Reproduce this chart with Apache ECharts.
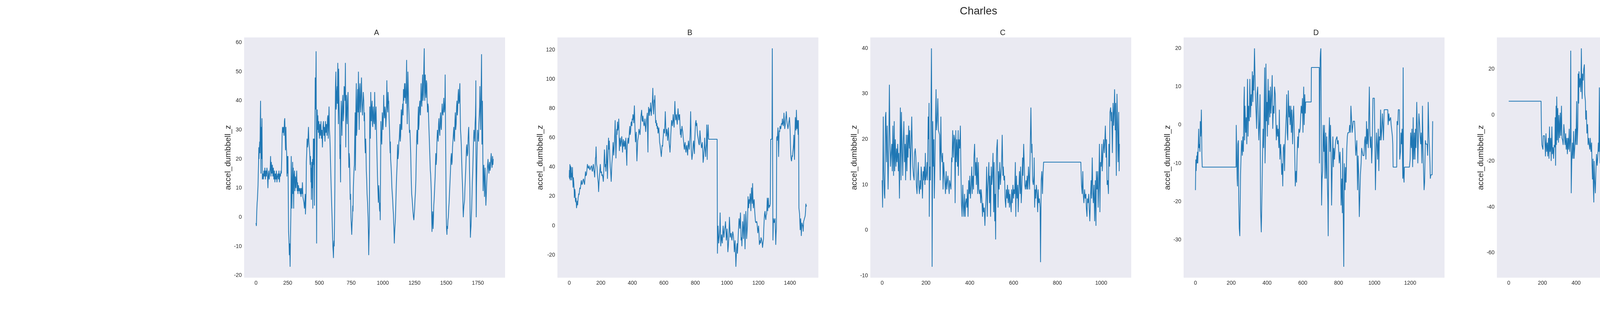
<!DOCTYPE html>
<html>
<head>
<meta charset="utf-8">
<script src="https://cdn.jsdelivr.net/npm/echarts@6/dist/echarts.min.js"></script>
<style>
  html, body { margin: 0; padding: 0; background: #ffffff; }
  #chart { width: 5000px; height: 800px; }
</style>
</head>
<body>
<div id="chart"></div>
<script>
// accel_dumbbell_z readings for Charles, one series per class (A..E), as [sample index, value]
const panelNames = ['A', 'B', 'C', 'D', 'E'];

const accelA = [
  [0,-2],[3,-3],[6,2],[9,5],[11,6],[14,9],[16,11],[18,15],[20,18],[22,24],[24,20],[27,24],[29,26],[31,22],[33,30],[36,40],[38,25],[39,15],[41,28],[42,31],[44,20],[46,30],[47,34],[49,22],[50,13],
  [54,15],[58,13],[62,16],[66,14],[70,17],[74,13],[78,16],[82,14],[86,17],[90,15],[94,10],[97,14],[100,16],[104,13],[108,15],[112,17],[115,21],[118,14],[121,19],[125,15],[129,18],[133,14],[137,17],[141,13],[145,16],[149,12],[153,15],[157,13],[161,16],[165,12],[169,14],[173,15],[177,13],[181,16],[185,12],[189,15],[193,14],[197,16],[200,15],
  [203,20],[206,28],[209,31],[213,29],[217,31],[221,28],[224,33],[227,34],[230,28],[233,23],[236,31],[239,24],[242,22],[244,14],[246,21],[249,15],[252,21],[255,5],[257,-5],[260,-8],[263,-13],[266,-9],[269,-17],[272,-7],[275,1],[278,21],[280,14],[283,3],[286,12],[289,19],[291,8],[294,17],[297,3],[300,14],[304,16],[307,9],[311,14],[315,10],[318,13],[321,16],[325,9],[328,12],[331,8],[335,11],[339,9],[343,10],[347,8],[351,10],[355,7],[359,10],[363,8],[366,12],[370,7],[374,6],[378,5],[382,3],[386,6],[388,8],[390,1],[393,5],[395,8],
  [397,19],[400,22],[403,27],[406,24],[409,25],[412,29],[414,31],[417,26],[420,26],[424,22],[427,18],[430,21],[433,12],[435,17],[437,6],[440,19],[443,10],[446,20],[448,3],[450,15],[452,27],[455,18],[458,27],[461,4],[463,20],[464,27],[466,40],[467,48],[470,37],[472,45],[474,57],[476,30],[478,-9],[480,15],[483,37],[486,30],[488,35],
  [492,29],[496,33],[500,27],[504,32],[508,28],[512,33],[516,27],[520,30],[524,24],[528,31],[532,33],[536,28],[540,31],[544,26],[548,33],[552,29],[556,32],[560,28],[564,34],[567,35],[570,27],[573,33],[576,38],[579,30],[582,28],[585,24],
  [587,20],[590,15],[593,10],[597,4],[600,0],[603,-5],[606,-10],[609,-12],[611,-14],[613,-9],[615,-8],[617,-10],[619,-3],[621,5],[622,10],[624,30],[625,36],[627,45],[630,50],[632,37],[634,38],[637,43],[640,45],[642,39],[645,53],[647,44],[650,32],[652,51],[654,42],[656,42],[659,33],[662,20],[664,25],[667,12],[669,30],[672,40],[675,34],[678,28],[681,38],[685,42],[688,33],[692,36],[695,45],[699,44],[702,40],[705,53],[707,38],[708,24],[710,36],[713,42],[716,35],[719,32],[722,40],[726,43],[729,30],[732,17],[735,22],[738,20],[741,12],[743,6],[746,8],[749,0],[752,-3],[755,-6],[758,-2],[760,-1],[763,4],[765,2],[768,10],[771,14],[774,17],[776,18],[779,28],[782,36],[784,16],[786,25],[788,38],[791,46],[793,28],[796,30],[799,40],[802,44],[805,36],[808,50],[811,38],[814,30],[817,44],[820,46],[823,38],[826,36],[829,44],[832,48],[835,40],[837,40],[840,35],[842,38],[846,43],[850,40],[853,33],[856,36],[859,26],[862,22],[865,27],[867,24],[870,16],[873,13],[876,8],[880,5],[882,2],[884,0],[887,-6],[889,-13],[891,-8],[894,-3],[896,20],[897,38],[900,30],[902,27],[904,36],[905,43],[908,35],[910,33],[913,38],[916,40],[918,32],[921,31],[923,36],[925,38],[929,33],[932,32],[934,36],[936,43],[939,34],[941,30],[944,35],[947,38],[950,31],[952,26],[955,20],[958,14],[961,10],[965,5],[968,11],[971,8],[974,3],[976,2],[978,5],[980,-1],[982,12],[985,33],[988,28],[992,25],[994,30],[996,36],[999,34],[1002,30],[1005,35],[1007,42],[1010,36],[1014,34],[1017,38],[1020,37],[1024,31],[1028,35],[1030,40],[1032,47],[1035,38],[1039,36],[1042,43],[1045,39],[1047,40],[1050,34],[1053,30],[1056,25],[1058,22],[1060,26],[1062,20],[1066,17],[1069,14],[1072,10],[1075,8],[1078,6],[1081,3],[1084,1],[1086,-2],[1088,-4],[1091,-9],[1093,-6],[1095,-4],[1098,-2],[1100,0],[1103,5],[1106,10],[1109,14],[1113,18],[1115,22],[1117,25],[1120,20],[1124,22],[1127,26],[1130,27],[1133,30],[1135,32],[1138,26],[1141,28],[1143,33],[1146,37],[1148,31],[1150,30],[1153,36],[1157,39],[1160,35],[1163,44],[1166,40],[1169,43],[1172,46],[1174,41],[1176,46],[1179,42],[1182,39],[1185,45],[1188,54],[1190,42],[1193,32],[1195,40],[1198,50],[1201,44],[1204,38],[1207,35],[1210,29],[1214,30],[1217,26],[1220,22],[1223,16],[1225,12],[1228,8],[1232,6],[1235,4],[1238,2],[1242,0],[1245,-1],[1248,-1],[1251,3],[1254,6],[1258,9],[1261,13],[1263,18],[1265,22],[1268,28],[1270,30],[1273,26],[1275,25],[1278,34],[1281,38],[1283,30],[1286,32],[1289,38],[1292,40],[1295,36],[1297,35],[1300,42],[1302,46],[1305,40],[1308,38],[1311,44],[1314,49],[1317,40],[1320,42],[1322,48],[1324,52],[1327,58],[1329,45],[1331,40],[1333,46],[1335,49],[1338,43],[1341,41],[1344,47],[1347,46],[1350,40],[1353,36],[1356,39],[1359,38],[1362,33],[1366,28],[1369,24],[1372,20],[1375,16],[1377,15],[1380,12],[1383,8],[1385,2],[1388,-5],[1390,-2],[1393,2],[1395,0],[1397,-4],[1400,0],[1402,4],[1405,6],[1407,8],[1410,11],[1413,14],[1416,19],[1418,22],[1421,18],[1424,20],[1427,26],[1431,30],[1434,28],[1437,26],[1440,32],[1443,34],[1446,30],[1450,28],[1453,34],[1456,36],[1459,31],[1462,30],[1465,35],[1468,39],[1471,36],[1475,35],[1478,38],[1481,41],[1484,36],[1487,37],[1490,40],[1492,49],[1494,36],[1497,20],[1499,8],[1501,0],[1503,-4],[1506,-6],[1508,-3],[1511,-4],[1514,-1],[1517,0],[1520,3],[1523,5],[1526,8],[1528,10],[1531,13],[1534,16],[1537,20],[1541,22],[1544,18],[1547,19],[1550,24],[1553,24],[1556,28],[1560,31],[1563,27],[1566,26],[1569,33],[1572,36],[1575,30],[1579,32],[1582,38],[1585,40],[1588,35],[1591,37],[1594,42],[1597,44],[1600,39],[1604,40],[1606,44],[1608,46],[1610,38],[1613,30],[1616,28],[1619,25],[1622,20],[1626,14],[1628,12],[1631,8],[1633,3],[1635,0],[1637,2],[1640,4],[1643,5],[1645,6],[1648,10],[1651,13],[1654,16],[1657,20],[1660,24],[1663,25],[1666,21],[1670,22],[1673,27],[1676,30],[1678,31],[1680,26],[1682,24],[1684,16],[1687,10],[1689,0],[1691,-7],[1693,-5],[1696,-3],[1698,0],[1701,3],[1704,8],[1706,12],[1709,15],[1712,20],[1715,25],[1719,30],[1722,28],[1725,26],[1728,32],[1731,35],[1733,40],[1734,47],[1735,20],[1737,0],[1739,10],[1742,18],[1745,24],[1748,30],[1751,28],[1755,26],[1758,32],[1761,35],[1764,38],[1766,45],[1768,38],[1771,30],[1773,36],[1775,42],[1777,48],[1779,56],[1781,35],[1782,25],[1784,32],[1786,40],[1788,30],[1791,9],[1794,14],[1797,18],[1800,12],[1802,7],[1804,12],[1807,17],[1810,10],[1813,4],[1815,6],[1818,10],[1821,13],[1824,16],[1827,18],[1830,20],[1833,17],[1837,15],[1840,18],[1843,19],[1846,16],[1849,17],[1852,20],[1855,22],[1858,19],[1862,17],[1866,21],[1869,18],[1871,20]
];

const accelB = [
  [0,33],[1,38],[2,32],[4,42],[6,31],[8,41],[10,33],[12,40],[14,31],[16,36],[18,33],[20,40],[22,32],[24,26],[26,33],[29,29],[31,24],[32,19],[35,25],[37,23],[39,17],[41,16],[43,19],[46,12],[49,15],[51,17],[53,14],[56,19],[58,20],[60,22],[62,21],[65,24],[67,26],[70,25],[72,27],[75,30],[77,31],[80,28],[84,29],[87,31],[90,32],[93,30],[97,28],[100,33],[103,37],[106,34],[109,35],[112,38],[115,42],[118,40],[122,39],[125,41],[128,41],[131,38],[134,39],[137,40],[141,41],[144,38],[147,37],[150,40],[153,42],[156,38],[159,36],[161,33],[164,40],[166,46],[168,47],[170,54],[172,46],[173,42],[176,40],[178,36],[181,32],[184,29],[186,23],[189,30],[191,33],[194,38],[197,42],[200,36],[204,37],[207,34],[210,35],[213,33],[216,30],[219,38],[221,45],[223,52],[225,47],[227,40],[230,42],[232,37],[235,44],[238,55],[240,42],[242,32],[245,45],[247,52],[249,60],[251,52],[254,58],[256,50],[258,45],[260,40],[262,38],[264,34],[266,30],[268,36],[270,42],[273,46],[275,50],[278,57],[280,52],[282,48],[284,52],[286,56],[289,64],[291,72],[293,60],[296,46],[298,55],[301,66],[303,62],[306,71],[308,65],[310,65],[312,68],[314,73],[316,62],[318,51],[321,58],[323,60],[326,54],[328,56],[331,59],[333,61],[336,55],[338,50],[341,57],[343,59],[346,54],[349,55],[351,58],[354,52],[357,57],[359,60],[362,50],[365,41],[366,48],[368,55],[371,58],[373,60],[376,56],[378,58],[381,64],[384,68],[386,62],[389,64],[392,70],[394,71],[397,68],[399,73],[402,72],[404,76],[407,74],[409,70],[411,76],[413,82],[415,74],[416,70],[418,62],[420,57],[423,62],[425,64],[427,52],[429,44],[432,52],[434,58],[437,60],[439,62],[442,66],[444,65],[447,63],[449,62],[452,68],[454,74],[457,77],[459,79],[462,72],[465,71],[467,75],[470,72],[473,69],[475,68],[478,70],[480,73],[483,67],[485,64],[488,69],[490,72],[493,75],[495,77],[497,63],[499,50],[501,70],[503,81],[506,78],[508,75],[511,80],[513,78],[515,80],[516,84],[518,78],[520,75],[523,79],[525,82],[528,86],[530,94],[532,84],[535,76],[537,80],[539,86],[541,84],[543,89],[546,76],[548,70],[551,72],[553,68],[556,70],[558,66],[561,68],[563,63],[566,65],[568,67],[571,62],[573,57],[576,55],[578,53],[581,50],[584,47],[587,52],[589,55],[592,54],[594,58],[597,62],[599,66],[602,65],[604,63],[607,70],[609,78],[612,68],[614,61],[617,64],[619,66],[622,62],[624,58],[627,64],[629,67],[632,60],[634,56],[637,53],[639,50],[642,56],[644,62],[647,68],[649,72],[652,70],[654,68],[657,72],[659,76],[662,71],[665,67],[667,74],[670,85],[672,78],[675,72],[677,74],[680,76],[682,72],[685,69],[687,74],[690,80],[692,76],[695,72],[697,75],[700,76],[702,70],[705,62],[707,66],[710,60],[712,64],[715,68],[717,66],[720,64],[722,61],[725,58],[727,55],[730,52],[732,55],[735,57],[737,53],[740,50],[743,54],[746,55],[748,51],[751,48],[753,53],[756,58],[758,55],[761,52],[763,56],[766,61],[768,68],[770,78],[772,66],[773,55],[775,50],[778,45],[781,48],[784,52],[786,56],[789,58],[791,53],[794,49],[796,58],[799,66],[801,70],[804,72],[806,68],[809,70],[811,66],[814,62],[817,60],[820,58],[822,56],[825,55],[827,60],[829,65],[832,60],[834,57],[837,55],[839,53],[842,55],[844,57],[847,50],[849,43],[852,46],[854,50],[857,54],[859,60],[862,52],[865,47],[867,52],[870,56],[872,69],[874,55],[875,45],[877,60],[879,64],[881,69],[883,62],[884,59],[938,59],
  [940,-19],[942,-8],[944,0],[946,-6],[948,-12],[950,-9],[952,-7],[955,-2],[957,9],[959,-4],[961,-14],[964,-9],[966,-6],[969,-10],[971,-12],[974,-4],[976,0],[979,-5],[981,-8],[984,-4],[986,-2],[989,0],[991,3],[994,-4],[996,-10],[999,-6],[1001,-2],[1004,-10],[1006,-18],[1009,-14],[1011,-10],[1014,-2],[1016,6],[1019,-2],[1021,-8],[1024,-6],[1027,-5],[1029,-8],[1032,-10],[1035,-6],[1037,-4],[1040,-6],[1042,-8],[1045,-12],[1047,-18],[1050,-14],[1052,-10],[1055,-20],[1057,-28],[1060,-20],[1062,-15],[1065,-12],[1067,-19],[1070,-12],[1072,-6],[1075,0],[1077,5],[1080,2],[1082,-2],[1084,4],[1086,9],[1088,0],[1090,-10],[1093,-8],[1095,-14],[1098,-4],[1100,3],[1103,-3],[1105,-9],[1108,2],[1110,8],[1113,-6],[1115,-16],[1118,0],[1120,10],[1123,2],[1125,-9],[1128,-4],[1130,0],[1132,8],[1134,20],[1136,16],[1138,12],[1141,18],[1143,15],[1146,19],[1148,22],[1150,16],[1152,10],[1154,18],[1156,26],[1158,20],[1161,15],[1163,29],[1165,20],[1168,12],[1170,16],[1173,18],[1175,13],[1177,9],[1179,6],[1181,3],[1184,2],[1186,2],[1189,3],[1191,2],[1194,-2],[1196,-5],[1199,-2],[1201,0],[1204,-6],[1206,-13],[1209,-11],[1211,-10],[1214,-12],[1216,-8],[1219,-9],[1221,-10],[1224,-12],[1226,-15],[1229,-12],[1232,-9],[1234,-2],[1237,5],[1239,8],[1242,10],[1244,6],[1247,4],[1249,7],[1252,8],[1254,12],[1256,19],[1258,14],[1259,10],[1261,15],[1263,19],[1265,14],[1267,12],[1270,14],[1272,13],[1275,15],[1277,15],
  [1278,59],[1286,59],[1288,121],[1290,121],[1292,-10],[1294,-2],[1295,5],[1298,3],[1300,2],[1303,4],[1305,5],[1308,-4],[1310,-13],[1312,-6],[1314,-2],
  [1316,60],[1318,61],[1320,58],[1322,63],[1324,67],[1326,60],[1328,47],[1330,58],[1332,65],[1335,64],[1337,68],[1340,67],[1342,66],[1345,69],[1347,70],[1350,69],[1352,73],[1355,70],[1357,68],[1360,71],[1362,77],[1365,70],[1367,66],[1370,69],[1372,72],[1375,75],[1377,78],[1380,72],[1382,70],[1385,68],[1387,66],[1390,68],[1392,70],[1395,72],[1397,74],[1399,70],[1401,65],[1403,56],[1406,47],[1408,45],[1410,44],[1412,46],[1414,48],[1416,47],[1418,50],[1420,52],[1421,53],[1423,56],[1425,62],[1427,52],[1429,45],[1431,60],[1434,74],[1436,70],[1438,65],[1440,72],[1441,79],[1443,70],[1444,66],[1446,70],[1448,72],[1450,66],[1452,62],[1453,68],[1454,72],
  [1456,40],[1457,12],[1459,10],[1461,8],[1463,2],[1465,-3],[1467,2],[1468,5],[1470,0],[1472,-7],[1474,-2],[1476,2],[1478,1],[1481,0],[1483,-2],[1484,-4],[1486,1],[1487,3],[1490,4],[1492,5],[1495,6],[1497,7],[1499,10],[1501,15],[1503,13],[1505,14]
];

const accelC = [
  [0,11],[2,5],[5,25],[7,13],[10,8],[12,7],[15,25],[17,26],[20,15],[23,23],[25,15],[27,9],[30,18],[33,32],[35,22],[38,14],[41,17],[44,19],[46,13],[49,23],[52,12],[55,24],[57,13],[60,20],[63,14],[66,18],[68,15],[71,19],[74,13],[76,17],[79,7],[83,27],[86,11],[88,26],[91,18],[94,12],[96,19],[99,24],[102,15],[105,19],[107,11],[110,21],[113,13],[116,21],[118,16],[121,23],[124,18],[126,22],[129,11],[132,19],[135,25],[137,19],[140,14],[143,12],[146,11],[148,17],[151,18],[154,16],[156,10],[159,8],[162,12],[165,15],[167,10],[170,8],[173,11],[176,9],[178,14],[181,12],[184,7],[187,13],[189,11],[192,14],[195,10],[197,17],[199,11],[202,12],[205,15],[207,11],[210,25],[212,20],[214,28],[215,3],[217,14],[220,11],[223,28],[225,40],[227,20],[228,-8],[231,24],[234,14],[236,20],[238,7],[241,15],[243,22],[246,31],[248,22],[251,24],[254,29],[257,22],[259,22],[262,21],[265,11],[268,25],[270,17],[273,15],[276,17],[278,9],[281,15],[284,12],[287,10],[289,8],[292,13],[295,9],[298,11],[300,12],[303,10],[306,8],[308,11],[311,10],[314,9],[317,16],[319,15],[322,22],[325,16],[328,21],[331,20],[333,6],[336,22],[338,15],[341,20],[344,14],[347,22],[348,12],[351,20],[354,18],[357,23],[359,15],[362,6],[365,3],[368,10],[370,6],[373,3],[376,8],[379,3],[381,6],[384,7],[387,5],[389,9],[392,3],[395,11],[398,8],[400,12],[403,7],[406,10],[409,14],[411,8],[414,12],[417,9],[419,16],[422,19],[425,12],[428,15],[430,10],[433,16],[436,8],[439,15],[441,9],[444,8],[447,9],[450,6],[452,9],[455,7],[458,3],[460,6],[463,4],[466,5],[469,1],[471,4],[474,7],[477,14],[480,3],[482,9],[485,12],[487,15],[490,6],[492,12],[495,3],[498,14],[500,10],[503,12],[506,17],[509,4],[511,15],[514,2],[516,8],[518,-2],[520,12],[523,18],[526,20],[529,5],[531,13],[534,9],[537,15],[540,10],[542,12],[545,14],[548,21],[551,12],[553,14],[556,11],[559,12],[561,7],[564,5],[567,9],[570,7],[572,10],[575,6],[578,9],[581,5],[583,8],[586,6],[589,4],[591,9],[594,6],[597,10],[600,7],[602,9],[605,8],[608,15],[610,3],[613,12],[616,7],[619,10],[621,4],[624,9],[627,13],[630,8],[632,14],[635,6],[638,10],[641,16],[643,12],[646,19],[649,14],[651,10],[654,9],[657,11],[660,9],[662,12],[665,9],[668,14],[671,11],[673,9],[676,18],[679,27],[682,17],[684,19],[687,11],[690,10],[693,12],[694,16],[696,5],[699,9],[701,7],[704,10],[707,8],[710,4],[712,9],[715,6],[718,7],[721,5],[723,-7],[726,11],[729,13],[732,8],[734,12],[737,15],[907,15],
  [910,10],[913,8],[916,13],[918,8],[921,6],[924,9],[927,7],[930,8],[932,5],[935,3],[937,7],[940,6],[943,8],[945,5],[948,2],[951,7],[954,11],[956,7],[959,16],[962,8],[964,6],[967,10],[970,2],[973,11],[976,1],[978,13],[981,9],[984,13],[986,5],[989,10],[992,19],[994,4],[997,15],[1000,14],[1003,19],[1005,13],[1008,17],[1011,20],[1014,17],[1016,19],[1019,23],[1022,16],[1024,20],[1027,10],[1030,11],[1033,8],[1035,19],[1038,14],[1040,26],[1043,27],[1046,24],[1048,26],[1051,17],[1054,28],[1057,23],[1059,26],[1061,31],[1064,22],[1066,28],[1069,12],[1072,30],[1075,22],[1077,15],[1080,26],[1082,13],[1083,19]
];

const accelD = [
  [0,-17],[2,-9],[4,-12],[7,-8],[9,-10],[11,-7],[13,-10],[16,-5],[18,-1],[20,-6],[22,-5],[25,-7],[27,1],[29,-3],[31,-1],[33,4],[36,-8],[38,-11],[227,-11],
  [228,0],[231,-8],[233,-14],[235,-16],[237,-5],[240,-4],[242,-20],[245,-27],[248,-29],[252,-13],[255,-8],[258,-4],[262,-8],[265,-3],[268,-7],[271,6],[273,10],[275,-4],[277,5],[281,-2],[284,2],[287,-5],[291,12],[294,-3],[297,5],[301,1],[304,12],[308,2],[311,8],[314,5],[318,14],[321,6],[324,13],[326,9],[330,20],[332,20],[335,8],[339,3],[342,-1],[344,8],[348,10],[351,2],[354,-4],[358,1],[361,8],[364,-22],[368,-28],[371,-20],[375,-8],[378,-1],[381,-6],[384,4],[387,15],[389,-10],[392,-1],[394,16],[397,1],[400,6],[402,-3],[406,12],[409,0],[412,9],[416,2],[419,10],[422,3],[426,8],[429,13],[432,-1],[436,5],[439,3],[442,10],[446,8],[449,2],[452,-4],[456,0],[459,-3],[462,-1],[466,-6],[469,4],[472,-9],[476,-5],[479,-8],[482,-13],[486,-10],[488,-16],[491,-6],[495,-5],[498,-12],[501,-5],[505,0],[508,3],[510,8],[513,-2],[516,-4],[519,9],[523,2],[526,5],[529,0],[533,5],[536,-2],[539,4],[543,-5],[546,2],[549,5],[552,-1],[556,-10],[558,-16],[562,-12],[565,-15],[568,-8],[572,-3],[575,-6],[578,-1],[582,-2],[585,-1],[588,2],[591,5],[595,3],[598,7],[601,-2],[605,10],[608,0],[611,8],[614,3],[616,6],[647,6],[648,15],[692,15],
  [693,-10],[695,3],[697,17],[699,19],[701,20],[702,12],[705,-21],[708,-14],[711,-12],[714,0],[718,-7],[721,0],[724,-14],[728,-2],[731,-14],[734,-3],[737,-14],[740,-20],[742,-29],[745,-5],[749,2],[752,-7],[755,0],[759,-11],[761,-21],[764,-12],[768,-3],[771,-11],[774,-6],[777,-9],[781,-6],[784,-4],[787,-4],[791,-3],[794,-5],[798,-4],[801,-7],[804,-10],[808,-7],[811,-10],[814,-21],[818,-14],[821,-23],[823,-6],[826,-23],[829,-37],[832,-10],[836,-17],[839,-11],[842,-15],[846,-6],[849,-3],[852,-2],[856,-2],[859,-2],[862,0],[866,-2],[869,5],[872,5],[876,-2],[879,-2],[882,1],[886,1],[889,1],[892,-2],[896,-8],[899,-6],[902,-4],[906,-17],[909,-8],[912,-12],[916,-24],[919,-24],[922,-13],[926,-10],[929,-6],[932,-6],[936,-8],[939,-8],[942,-8],[946,-4],[949,-3],[953,-9],[956,1],[959,-5],[962,-1],[966,-6],[969,2],[972,10],[975,-2],[978,-6],[982,-3],[985,-10],[988,-6],[992,7],[1000,7],[1004,-8],[1006,-17],[1009,-17],[1012,-2],[1015,-5],[1018,-9],[1022,-1],[1025,-12],[1028,-3],[1032,-4],[1035,4],[1038,-4],[1042,-1],[1045,3],[1048,0],[1051,-4],[1055,4],[1075,4],[1077,0],[1081,3],[1084,1],[1088,1],[1091,2],[1094,0],[1097,0],[1101,-3],[1103,-5],[1105,-11],[1125,-11],[1127,1],[1131,0],[1134,4],[1140,4],[1142,-9],[1146,-7],[1149,-2],[1152,-5],[1155,-1],[1159,-14],[1161,15],[1163,-13],[1166,-15],[1168,-11],[1196,-11],[1200,-9],[1203,-2],[1207,-6],[1210,-1],[1214,-11],[1217,2],[1220,-9],[1224,-2],[1227,-9],[1230,-1],[1233,-6],[1237,6],[1240,-1],[1243,-10],[1246,-3],[1249,3],[1253,0],[1256,-3],[1259,-5],[1262,-2],[1266,-10],[1269,5],[1272,-6],[1276,-6],[1278,-17],[1281,-15],[1285,-4],[1288,-5],[1291,-5],[1295,-5],[1298,-8],[1301,6],[1305,-3],[1308,-6],[1311,-10],[1313,-14],[1316,-13],[1323,-13],[1326,1]
];

const accelE = [
  [0,6],[192,6],[194,-7],[197,-13],[200,-14],[203,-15],[205,-9],[212,-9],[216,-14],[218,-18],[221,-8],[225,-16],[229,-12],[232,-18],[236,-10],[239,-19],[242,-5],[245,-16],[249,-10],[252,-20],[256,-5],[259,-17],[263,-14],[266,-19],[270,-13],[274,-14],[276,-1],[278,-22],[281,4],[283,-13],[285,8],[288,-11],[291,3],[295,-12],[298,0],[302,-10],[306,1],[309,-9],[313,4],[316,-10],[320,-11],[323,-13],[327,-4],[330,-7],[334,-13],[338,-8],[341,-15],[345,-10],[348,-17],[352,-10],[355,-15],[359,-6],[362,-16],[366,-10],[368,28],[371,-34],[374,-20],[378,-12],[381,-19],[385,-7],[388,-19],[392,-14],[396,-6],[399,-13],[403,6],[406,-13],[410,-5],[412,18],[415,5],[417,19],[420,12],[424,16],[428,10],[430,22],[431,29],[433,15],[436,7],[438,18],[442,15],[445,20],[449,22],[451,9],[455,6],[457,-2],[461,2],[464,-8],[468,-4],[471,-13],[475,-10],[478,-13],[481,-15],[484,-10],[488,-16],[492,-12],[494,-21],[497,-28],[500,-19],[502,-31],[505,-38],[507,-20],[510,-28],[514,-34],[518,-23],[521,-17],[525,-22],[528,-19],[532,-12],[535,-16],[538,12],[540,-14],[542,-21],[545,3],[548,-4],[563,-4],[565,12],[569,-10],[572,-22],[576,-15],[579,-18],[583,5],[586,-12],[590,-13],[593,-3],[597,-11],[600,-6],[604,-16],[607,-8],[611,-14],[614,-17],[618,-18],[622,-11],[624,-26],[628,-34],[631,-22],[635,-43],[638,-24],[642,-13],[645,-29],[649,-15],[653,-27],[656,-16],[660,-11],[664,-22],[667,-28],[671,-14],[674,-10],[677,-18],[681,-14],[685,-25],[688,-14],[691,-5],[695,7],[699,-3],[702,6],[706,-10],[709,3],[713,-13],[717,-21],[720,-26],[724,-28],[727,-27],[731,-18],[734,-22],[737,-13],[741,-9],[745,-24],[749,-11],[752,-25],[756,-14],[760,-22],[763,-16],[767,-2],[770,-24],[774,-5],[777,-18],[781,-7],[784,-3],[788,-14],[791,-2],[795,-12],[799,0],[802,-5],[805,-2],[808,12],[810,-20],[814,-10],[816,7],[820,4],[823,1],[826,14],[828,-1],[832,8],[835,-2],[839,-15],[842,-3],[846,-1],[849,-5],[853,-13],[856,-4],[860,-18],[863,5],[867,8],[871,-15],[874,-5],[878,-24],[881,-6],[884,7],[888,-10],[892,-24],[895,-5],[899,14],[902,3],[906,9],[909,-3],[913,6],[917,-2],[920,0],[924,-9],[927,-2],[931,-5],[935,-10],[938,-3],[942,-8],[945,-4],[949,-14],[952,-21],[956,-9],[960,-12],[963,-5],[966,-16],[970,-6],[974,-17],[977,-21],[981,-8],[984,-15],[988,-10],[991,-16],[995,-12],[998,-15],[1002,-3],[1006,-14],[1009,-22],[1013,11],[1016,-3],[1020,-13],[1023,-9],[1027,-17],[1030,-14],[1034,-4],[1036,10],[1040,-12],[1043,-25],[1047,-15],[1050,-17],[1054,-20],[1057,-13],[1061,-25],[1063,3],[1067,-24],[1071,-7],[1074,-12],[1078,0],[1081,3],[1085,-14],[1087,7],[1091,-10],[1094,1],[1098,-14],[1101,1],[1103,-20],[1107,-5],[1111,11],[1114,7],[1118,2],[1122,15],[1125,-4],[1129,12],[1132,-8],[1134,28],[1138,0],[1142,10],[1145,14],[1149,5],[1152,22],[1156,16],[1160,4],[1163,3],[1167,-7],[1170,5],[1174,11],[1177,5],[1181,0],[1184,-6],[1188,2],[1191,-6],[1195,-8],[1199,-15],[1202,-9],[1206,-25],[1209,-29],[1213,9],[1216,-28],[1220,6],[1224,11],[1226,-29],[1229,-11],[1233,-1],[1236,-5],[1240,-6],[1244,2],[1247,0],[1251,4],[1254,13],[1258,6],[1262,16],[1265,22],[1269,9],[1272,21],[1274,26],[1278,5],[1282,8],[1285,6],[1289,14],[1292,-10],[1297,-25],[1302,-40],[1306,-39],[1309,-8],[1311,-40],[1315,-66],[1318,-35],[1322,-15],[1325,-19],[1329,-22],[1333,-18],[1336,-24],[1340,-18],[1343,-22],[1347,-20],[1350,-18],[1354,-24],[1357,-22],[1361,-25],[1364,-24],[1368,-5],[1372,-14],[1374,1],[1376,-18],[1379,-8],[1382,-22],[1384,5],[1388,-4],[1391,14],[1394,-16],[1397,-2],[1401,-8],[1404,17],[1408,-11]
];

// tick labels per panel
const xTicks = [
  [0,250,500,750,1000,1250,1500,1750],
  [0,200,400,600,800,1000,1200,1400],
  [0,200,400,600,800,1000],
  [0,200,400,600,800,1000,1200],
  [0,200,400,600,800,1000,1200,1400]
];
const yTicks = [
  [-20,-10,0,10,20,30,40,50,60],
  [-20,0,20,40,60,80,100,120],
  [-10,0,10,20,30,40],
  [-30,-20,-10,0,10,20],
  [-60,-40,-20,0,20]
];

const allSeries = [accelA, accelB, accelC, accelD, accelE];

const FONT = '"Liberation Sans", Arial, sans-serif';
const TEXT = '#262626';
const gridLeft = [625, 1427, 2228, 3030, 3832];
const gridW = 668;
const gridTop = 96;
const gridH = 616;

// matplotlib style 5% padding around the data extent
const padMin = v => v.min - 0.05 * (v.max - v.min);
const padMax = v => v.max + 0.05 * (v.max - v.min);
const plain = v => String(v);

const chart = echarts.init(document.getElementById('chart'));

const option = {
  animation: false,
  backgroundColor: '#ffffff',
  title: [{
    text: 'Charles',
    left: 2500,
    top: 10,
    textAlign: 'center',
    textStyle: { fontFamily: FONT, fontSize: 27.8, fontWeight: 'normal', color: TEXT }
  }].concat(panelNames.map((n, i) => ({
    text: n,
    left: gridLeft[i] + gridW / 2,
    top: 70,
    textAlign: 'center',
    textStyle: { fontFamily: FONT, fontSize: 19.4, fontWeight: 'normal', color: TEXT }
  }))),
  grid: panelNames.map((n, i) => ({
    left: gridLeft[i],
    top: gridTop,
    width: gridW,
    height: gridH,
    show: true,
    backgroundColor: '#EAEAF2',
    borderWidth: 0
  })),
  xAxis: panelNames.map((n, i) => ({
    type: 'value',
    gridIndex: i,
    min: padMin,
    max: padMax,
    axisLine: { show: false },
    axisTick: { show: false },
    splitLine: { show: false },
    axisLabel: {
      customValues: xTicks[i],
      formatter: plain,
      margin: 7,
      fontFamily: FONT,
      fontSize: 13.9,
      color: TEXT
    }
  })),
  yAxis: panelNames.map((n, i) => ({
    type: 'value',
    gridIndex: i,
    min: padMin,
    max: padMax,
    name: 'accel_dumbbell_z',
    nameLocation: 'middle',
    nameGap: 26,
    nameTextStyle: { fontFamily: FONT, fontSize: 20.8, color: TEXT },
    axisLine: { show: false },
    axisTick: { show: false },
    splitLine: { show: false },
    axisLabel: {
      customValues: yTicks[i],
      formatter: plain,
      margin: 6,
      fontFamily: FONT,
      fontSize: 13.9,
      color: TEXT
    }
  })),
  series: allSeries.map((d, i) => ({
    type: 'line',
    xAxisIndex: i,
    yAxisIndex: i,
    data: d,
    showSymbol: false,
    symbol: 'none',
    lineStyle: { color: '#1f77b4', width: 2 },
    itemStyle: { color: '#1f77b4' }
  }))
};

chart.setOption(option);
</script>
</body>
</html>
